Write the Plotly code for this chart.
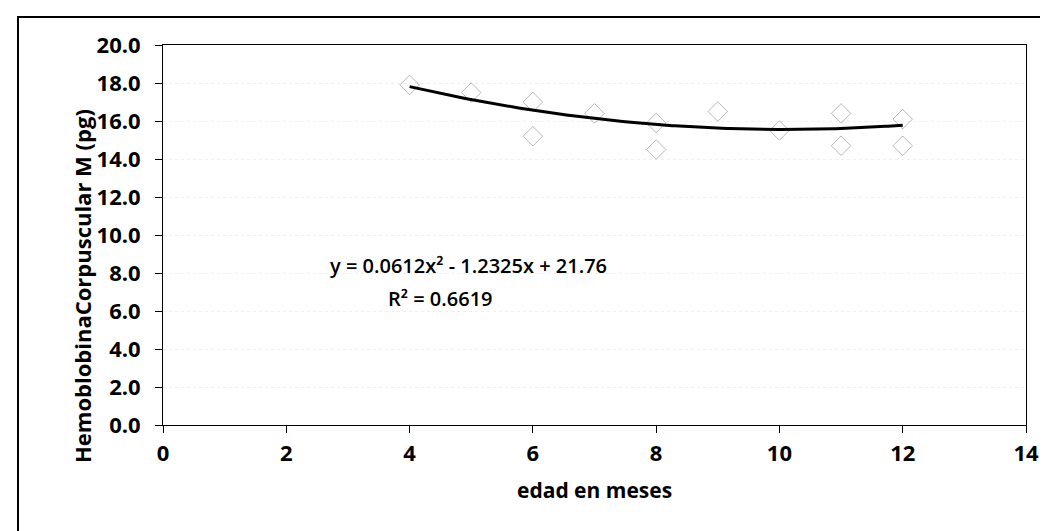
import numpy as np
import plotly.graph_objects as go

# Data (age in months vs MCH in pg)
edad_meses = [4, 5, 6, 6, 7, 8, 8, 9, 10, 11, 11, 12, 12]
hcm_pg = [17.9, 17.5, 17.0, 15.2, 16.4, 15.9, 14.5, 16.5, 15.5, 16.4, 14.7, 16.1, 14.7]

# Polynomial trendline (order 2) as displayed on the chart
trend_coef = [0.0612, -1.2325, 21.76]
r2_value = 0.6619

y_ticks = [0, 2, 4, 6, 8, 10, 12, 14, 16, 18, 20]
x_ticks = [0, 2, 4, 6, 8, 10, 12, 14]

FONT = "Open Sans"
W, H = 1048, 531
L, R, T, B = 155, 30, 37, 114
PW, PH = W - L - R, H - T - B


def px(xp):
    return (xp - L) / PW


def py(yp):
    return 1 - (yp - T) / PH


tx = np.linspace(min(edad_meses), max(edad_meses), 200)
ty = np.polyval(trend_coef, tx)

fig = go.Figure()
fig.add_trace(go.Scatter(
    x=edad_meses, y=hcm_pg, mode="markers",
    marker=dict(symbol="diamond-open", size=15, color="rgba(0,0,0,0.28)",
                line=dict(width=1)),
    showlegend=False, hoverinfo="x+y"))
fig.add_trace(go.Scatter(
    x=tx, y=ty, mode="lines", line=dict(color="black", width=3),
    showlegend=False, hoverinfo="skip"))

eq_text = "y = %.4fx² - %.4fx + %.2f" % (trend_coef[0], -trend_coef[1], trend_coef[2])
r2_text = "R² = %.4f" % r2_value

fig.update_layout(
    width=W, height=H,
    margin=dict(l=L, r=R, t=T, b=B),
    paper_bgcolor="white", plot_bgcolor="white",
    font=dict(family=FONT, size=21, color="black", weight="bold"),
    xaxis=dict(range=[0, 14], tickvals=x_ticks, ticks="outside", ticklen=7,
               tickcolor="black", showline=True, linecolor="black", linewidth=1,
               mirror=True, showgrid=False, zeroline=False,
               ticklabelstandoff=2,
               tickfont=dict(size=22, family=FONT, weight="bold")),
    yaxis=dict(range=[0, 20], tickvals=y_ticks, tickformat=".1f", ticks="outside",
               ticklen=7, tickcolor="black", showline=True, linecolor="black",
               linewidth=1, mirror=True, showgrid=True, gridcolor="#efefef",
               griddash="dot", zeroline=False, ticklabelstandoff=10,
               tickfont=dict(size=22, family=FONT, weight="bold")),
    annotations=[
        dict(x=4.95, y=8.37, xref="x", yref="y", text=eq_text, showarrow=False,
             font=dict(size=20, family=FONT, weight=600)),
        dict(x=4.5, y=6.68, xref="x", yref="y", text=r2_text, showarrow=False,
             font=dict(size=20, family=FONT, weight=600)),
        dict(x=px(57), y=py(278), xref="paper", yref="paper",
             text="HemoblobinaCorpuscular M (pg)", textangle=-90, showarrow=False,
             font=dict(size=22, family=FONT, weight="bold")),
        dict(x=px(586), y=py(498), xref="paper", yref="paper",
             text="edad en meses", showarrow=False,
             font=dict(size=21, family=FONT, weight="bold")),
    ],
    shapes=[dict(type="rect", xref="paper", yref="paper",
                 x0=px(10), x1=px(1040), y0=py(540), y1=py(9),
                 line=dict(color="black", width=2))],
)
fig.write_html("out.html")
